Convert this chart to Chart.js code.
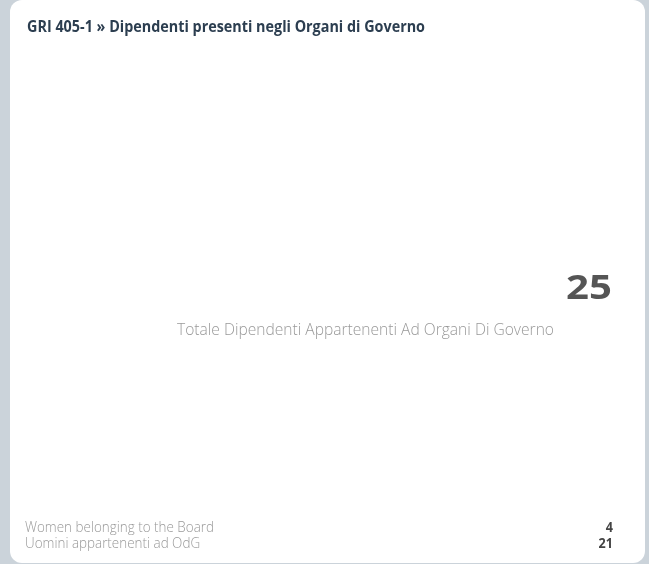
<!DOCTYPE html>
<html>
<head>
<meta charset="utf-8">
<script src="https://cdn.jsdelivr.net/npm/chart.js@4.4.1/dist/chart.umd.min.js"></script>
<style>
  html, body { margin: 0; padding: 0; background: #cbd3da; }
  .card {
    position: absolute; left: 10px; top: 0; width: 635px; height: 563px;
    background: #fff; border-radius: 12px; overflow: hidden;
  }
  canvas { display: block; }
</style>
</head>
<body>
<div class="card"><canvas id="kpiChart" width="635" height="563"></canvas></div>
<script>
const chartTitle = "GRI 405-1 » Dipendenti presenti negli Organi di Governo";
const totalLabel = "Totale Dipendenti Appartenenti Ad Organi Di Governo";
const categories = ["Women belonging to the Board", "Uomini appartenenti ad OdG"];
const values = [4, 21];

const FONT = "'Open Sans', 'Noto Sans', sans-serif";

// text with a horizontal squeeze/stretch, the original face is Fira-like
function drawText(ctx, text, x, y, align, sx) {
  ctx.save();
  ctx.translate(x, y);
  ctx.scale(sx, 1);
  ctx.textAlign = align;
  ctx.fillText(text, 0, 0);
  ctx.restore();
}

const kpiPlugin = {
  id: "kpi",
  afterDraw(chart) {
    const ctx = chart.ctx;
    const data = chart.data.datasets[0].data;
    const total = data.reduce((a, b) => a + b, 0);
    ctx.save();
    ctx.textBaseline = "alphabetic";

    // title
    ctx.font = "bold 16px " + FONT;
    ctx.fillStyle = "#2c3e50";
    const tw = ctx.measureText(chartTitle).width;
    drawText(ctx, chartTitle, 17, 32, "left", Math.min(1, 398 / tw));

    // total
    ctx.font = "bold 34px " + FONT;
    ctx.fillStyle = "#555555";
    drawText(ctx, String(total), 602, 299, "right", 1.18);

    ctx.font = "300 16px " + FONT;
    ctx.fillStyle = "#999999";
    const sw = ctx.measureText(totalLabel).width;
    drawText(ctx, totalLabel, 544, 335, "right", 377 / sw);

    // legend rows
    ctx.font = "300 14.5px " + FONT;
    const lw = ctx.measureText(categories[0]).width;
    const lsx = 189 / lw;
    chart.data.labels.forEach((label, i) => {
      const y = 532 + i * 16;
      ctx.font = "300 14.5px " + FONT;
      ctx.fillStyle = "#999999";
      drawText(ctx, label, 15, y, "left", lsx);
      ctx.font = "bold 14px " + FONT;
      ctx.fillStyle = "#444444";
      drawText(ctx, String(data[i]), 603, y, "right", 0.9);
    });
    ctx.restore();
  }
};

new Chart(document.getElementById("kpiChart").getContext("2d"), {
  type: "doughnut",
  data: {
    labels: categories,
    datasets: [
      {
        data: values,
        backgroundColor: ["rgba(0,0,0,0)", "rgba(0,0,0,0)"],
        borderWidth: 0,
      },
    ],
  },
  options: {
    responsive: false,
    animation: false,
    layout: { padding: { top: 60, bottom: 60 } },
    plugins: {
      legend: { display: false },
      tooltip: { enabled: false },
    },
  },
  plugins: [kpiPlugin],
});
</script>
</body>
</html>
